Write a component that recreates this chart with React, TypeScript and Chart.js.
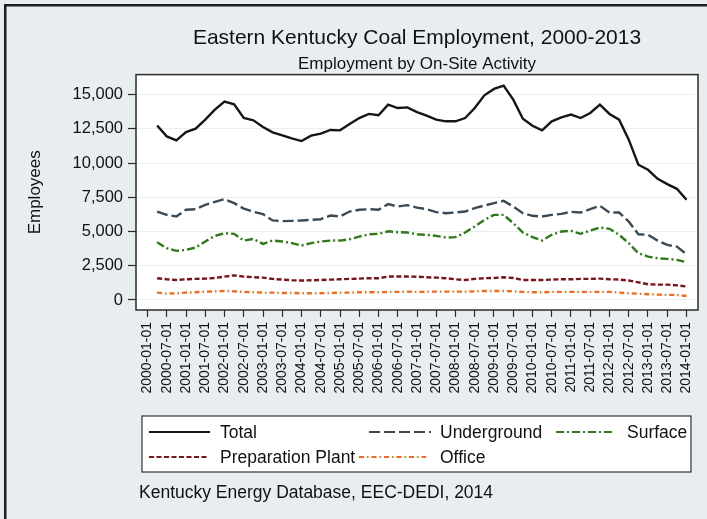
import React, { useEffect, useRef } from 'react';
import { Chart, registerables } from 'chart.js';

Chart.register(...registerables);

const tickLabels = [
  '2000-01-01', '2000-07-01', '2001-01-01', '2001-07-01', '2002-01-01', '2002-07-01',
  '2003-01-01', '2003-07-01', '2004-01-01', '2004-07-01', '2005-01-01', '2005-07-01',
  '2006-01-01', '2006-07-01', '2007-01-01', '2007-07-01', '2008-01-01', '2008-07-01',
  '2009-01-01', '2009-07-01', '2010-01-01', '2010-07-01', '2011-01-01', '2011-07-01',
  '2012-01-01', '2012-07-01', '2013-01-01', '2013-07-01', '2014-01-01',
];

const quarters = [
  '2000-04-01', '2000-07-01', '2000-10-01',
  '2001-01-01', '2001-04-01', '2001-07-01', '2001-10-01',
  '2002-01-01', '2002-04-01', '2002-07-01', '2002-10-01',
  '2003-01-01', '2003-04-01', '2003-07-01', '2003-10-01',
  '2004-01-01', '2004-04-01', '2004-07-01', '2004-10-01',
  '2005-01-01', '2005-04-01', '2005-07-01', '2005-10-01',
  '2006-01-01', '2006-04-01', '2006-07-01', '2006-10-01',
  '2007-01-01', '2007-04-01', '2007-07-01', '2007-10-01',
  '2008-01-01', '2008-04-01', '2008-07-01', '2008-10-01',
  '2009-01-01', '2009-04-01', '2009-07-01', '2009-10-01',
  '2010-01-01', '2010-04-01', '2010-07-01', '2010-10-01',
  '2011-01-01', '2011-04-01', '2011-07-01', '2011-10-01',
  '2012-01-01', '2012-04-01', '2012-07-01', '2012-10-01',
  '2013-01-01', '2013-04-01', '2013-07-01', '2013-10-01',
  '2014-01-01',
];

const total = [
  12750, 11950, 11660, 12270, 12510, 13170, 13900, 14490, 14290, 13290,
  13120, 12630, 12240, 12020, 11800, 11610, 12000, 12150, 12420, 12390,
  12850, 13290, 13590, 13490, 14270, 14020, 14070, 13720, 13460, 13170,
  13050, 13050, 13290, 14020, 14950, 15420, 15660, 14630, 13240, 12730,
  12390, 13050, 13340, 13540, 13290, 13660, 14270, 13590, 13170, 11710,
  9880, 9510, 8850, 8460, 8120, 7320,
];

const underground = [
  6460, 6220, 6100, 6590, 6630, 6950, 7170, 7370, 7070, 6680,
  6440, 6270, 5810, 5760, 5780, 5810, 5850, 5900, 6170, 6100,
  6460, 6590, 6630, 6590, 7000, 6830, 6930, 6750, 6630, 6420,
  6340, 6390, 6460, 6710, 6900, 7070, 7240, 6830, 6340, 6150,
  6100, 6220, 6290, 6440, 6390, 6630, 6880, 6390, 6390, 5730,
  4800, 4760, 4340, 4020, 3900, 3340,
];

const surface = [
  4220, 3780, 3590, 3660, 3830, 4270, 4680, 4880, 4830, 4340,
  4460, 4100, 4340, 4270, 4150, 3980, 4150, 4270, 4340, 4340,
  4440, 4630, 4800, 4830, 5020, 4950, 4930, 4790, 4760, 4680,
  4560, 4590, 4930, 5370, 5850, 6220, 6220, 5610, 4930, 4590,
  4340, 4760, 5000, 5050, 4830, 5070, 5290, 5200, 4760, 4150,
  3420, 3170, 3050, 3000, 2930, 2760,
];

const preparationPlant = [
  1590, 1510, 1460, 1510, 1540, 1560, 1610, 1710, 1800, 1710,
  1660, 1630, 1540, 1490, 1440, 1420, 1440, 1460, 1490, 1510,
  1540, 1560, 1590, 1590, 1710, 1710, 1710, 1700, 1660, 1630,
  1590, 1510, 1460, 1540, 1590, 1610, 1660, 1610, 1460, 1460,
  1460, 1490, 1510, 1510, 1540, 1540, 1560, 1510, 1490, 1420,
  1290, 1150, 1120, 1120, 1070, 980,
];

const office = [
  540, 460, 490, 540, 560, 610, 630, 660, 630, 590,
  560, 540, 540, 510, 510, 490, 490, 490, 510, 540,
  540, 560, 560, 560, 590, 590, 610, 590, 610, 610,
  610, 610, 610, 630, 660, 660, 660, 630, 590, 560,
  560, 590, 590, 590, 590, 590, 590, 590, 540, 490,
  460, 420, 390, 370, 370, 290,
];

const yTicks = [0, 2500, 5000, 7500, 10000, 12500, 15000];

const FONT = "'Liberation Sans', Arial, Helvetica, sans-serif";
const BG = '#e8eef0';

// quarter position counted from 2000-01-01
const quarterPos = (d: string) => {
  const [y, m] = d.split('-').map(Number);
  return (y - 2000) * 4 + (m - 1) / 3;
};

const toPoints = (vals: number[]) => vals.map((v, i) => ({ x: quarterPos(quarters[i]), y: v }));

// where each legend entry goes: sample line x1..x2, label x, row y
const legendSlots = [
  { x1: 149, x2: 210, tx: 220, y: 432 },
  { x1: 369, x2: 431, tx: 440, y: 432 },
  { x1: 556, x2: 613, tx: 627, y: 432 },
  { x1: 149, x2: 208, tx: 220, y: 457 },
  { x1: 359, x2: 426, tx: 440, y: 457 },
];

const framePlugin = {
  id: 'stataFrame',
  beforeDraw(chart: any) {
    const { ctx, width, height, chartArea } = chart;
    ctx.save();
    ctx.fillStyle = BG;
    ctx.fillRect(0, 0, width, height);
    ctx.fillStyle = '#1e1e1e';
    ctx.fillRect(4, 4, 2.5, height);
    ctx.fillRect(4, 4, width, 2.5);
    ctx.fillStyle = '#ffffff';
    ctx.fillRect(chartArea.left, chartArea.top, chartArea.right - chartArea.left, chartArea.bottom - chartArea.top);
    ctx.restore();
  },
  afterDraw(chart: any) {
    const { ctx, chartArea } = chart;
    ctx.save();
    ctx.strokeStyle = '#2a2a2a';
    ctx.lineWidth = 1.5;
    ctx.strokeRect(chartArea.left, chartArea.top, chartArea.right - chartArea.left, chartArea.bottom - chartArea.top);

    // legend box
    ctx.fillStyle = '#ffffff';
    ctx.fillRect(142, 416, 549, 56);
    ctx.strokeStyle = '#333333';
    ctx.lineWidth = 1.2;
    ctx.strokeRect(142, 416, 549, 56);

    ctx.font = `17.5px ${FONT}`;
    ctx.textBaseline = 'middle';
    chart.data.datasets.forEach((ds: any, i: number) => {
      const s = legendSlots[i];
      if (!s) return;
      ctx.strokeStyle = ds.borderColor;
      ctx.lineWidth = 1.8;
      ctx.setLineDash(ds.borderDash || []);
      ctx.beginPath();
      ctx.moveTo(s.x1, s.y);
      ctx.lineTo(s.x2, s.y);
      ctx.stroke();
      ctx.setLineDash([]);
      ctx.fillStyle = '#111111';
      ctx.fillText(ds.label, s.tx, s.y + 1);
    });

    // source note
    ctx.fillText('Kentucky Energy Database, EEC-DEDI, 2014', 139, 493);
    ctx.restore();
  },
};

const App: React.FC = () => {
  const canvasRef = useRef<HTMLCanvasElement>(null);

  useEffect(() => {
    if (!canvasRef.current) return;
    Chart.defaults.font.family = FONT;
    Chart.defaults.color = '#111111';

    const lineStyle = { pointRadius: 0, borderWidth: 2.4, tension: 0, fill: false };

    const chart = new Chart(canvasRef.current, {
      type: 'line',
      data: {
        datasets: [
          { label: 'Total', data: toPoints(total), borderColor: '#161616', ...lineStyle },
          { label: 'Underground', data: toPoints(underground), borderColor: '#3b4a54', borderDash: [11, 4], ...lineStyle },
          { label: 'Surface', data: toPoints(surface), borderColor: '#2c7a18', borderDash: [8, 3, 2, 3], ...lineStyle },
          { label: 'Preparation Plant', data: toPoints(preparationPlant), borderColor: '#7b1418', borderDash: [5, 2.5], ...lineStyle },
          { label: 'Office', data: toPoints(office), borderColor: '#f26b1d', borderDash: [5, 3, 1.5, 3], ...lineStyle },
        ],
      },
      options: {
        responsive: false,
        animation: false,
        layout: { padding: { left: 0, right: 9, top: 0, bottom: 0 } },
        plugins: {
          legend: { display: false },
          tooltip: { enabled: false },
          title: {
            display: true,
            text: 'Eastern Kentucky Coal Employment, 2000-2013',
            fullSize: false,
            font: { size: 21, weight: 'normal' },
            color: '#111111',
            padding: { top: 26, bottom: 3 },
          },
          subtitle: {
            display: true,
            text: 'Employment by On-Site Activity',
            fullSize: false,
            font: { size: 17, weight: 'normal' },
            color: '#111111',
            padding: { top: 0, bottom: 0 },
          },
        },
        scales: {
          x: {
            type: 'linear',
            min: -1.195,
            max: 57.195,
            afterBuildTicks: (scale: any) => {
              scale.ticks = tickLabels.map((t) => ({ value: quarterPos(t) }));
            },
            afterFit: (scale: any) => {
              scale.height = 209;
              scale.paddingLeft = 0;
              scale.paddingRight = 0;
            },
            ticks: {
              autoSkip: false,
              minRotation: 90,
              maxRotation: 90,
              padding: 5,
              font: { size: 14 },
              color: '#111111',
              callback: (_v: any, i: number) => tickLabels[i],
            },
            grid: { drawOnChartArea: false, drawTicks: true, tickLength: 7, tickColor: '#2a2a2a', tickWidth: 1.2 },
            border: { display: false },
          },
          y: {
            type: 'linear',
            min: -731.7,
            max: 16463,
            afterBuildTicks: (scale: any) => {
              scale.ticks = yTicks.map((v) => ({ value: v }));
            },
            afterFit: (scale: any) => {
              scale.width = 136;
              scale.paddingTop = 0;
              scale.paddingBottom = 0;
            },
            title: {
              display: true,
              text: 'Employees',
              font: { size: 17 },
              color: '#111111',
              padding: { top: 25, bottom: 0 },
            },
            ticks: {
              padding: 5,
              font: { size: 16.5 },
              color: '#111111',
              callback: (v: any) => Number(v).toLocaleString('en-US'),
            },
            grid: { color: '#e7eff1', lineWidth: 1, tickLength: 8, tickColor: '#2a2a2a', tickWidth: 1.2 },
            border: { display: false },
          },
        },
      } as any,
      plugins: [framePlugin],
    });

    return () => {
      chart.destroy();
    };
  }, []);

  return (
    <div style={{ position: 'absolute', left: 0, top: 0, width: 707, height: 519, background: BG }}>
      <canvas ref={canvasRef} width={707} height={519}></canvas>
    </div>
  );
};

export default App;
